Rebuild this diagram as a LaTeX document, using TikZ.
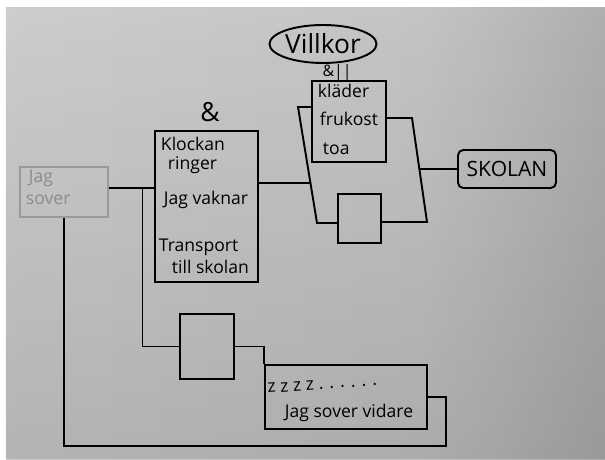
\documentclass[tikz,border=0pt]{standalone}
\usepackage{fontspec}
\setmainfont{Open Sans}
\usetikzlibrary{shapes.geometric,fadings}

\definecolor{paperL}{HTML}{D3D3D3}
\definecolor{paperM}{HTML}{C4C4C4}
\definecolor{paperD}{HTML}{A0A0A0}
\definecolor{paperE}{HTML}{555555}
\pgfdeclarehorizontalshading{photo}{100bp}{color(0bp)=(paperL); color(60bp)=(paperM); color(85bp)=(paperD); color(100bp)=(paperE)}

\begin{document}
\begin{tikzpicture}[
    line width=1.1pt,
    box/.style={draw, inner sep=0pt},
    lbl/.style={anchor=base west, inner sep=0pt, font=\fontsize{10}{12}\selectfont},
    faint/.style={draw=black!40, text=black!45}
]

% Photo
\useasboundingbox (0,0) rectangle (12.1,9.18);
\fill[white] (0,0) rectangle (12.1,9.18);
\shade[shading=photo] (0.12,0) rectangle (12.1,9.02);
\fill[black, path fading=north, opacity=0.12] (0.12,0) rectangle (12.1,9.02);

% Jag sover
\node[box, faint, line width=0.8pt, minimum width=1.76cm, minimum height=1cm] (sover) at (1.28,5.34) {};
\node[lbl, text=black!45] (jag) at (0.56,5.52) {Jag};
\node[lbl, text=black!45] (sov) at (0.5,5.08) {sover};

% Klockan ringer
\node[box, minimum width=2.06cm, minimum height=3.02cm] (klocka) at (4.13,5.05) {};
\node[font=\fontsize{15}{15}\selectfont] (och) at (4.2,6.94) {\&};
\node[lbl] (k1) at (3.2,6.16) {Klockan};
\node[lbl] (k2) at (3.34,5.78) {ringer};
\node[lbl] (k3) at (3.26,5.08) {Jag vaknar};
\node[lbl] (k4) at (3.16,4.14) {Transport};
\node[lbl] (k5) at (3.42,3.7) {till skolan};

% Villkor
\node[draw, ellipse, inner sep=0pt, minimum width=2.06cm, minimum height=0.76cm,
      font=\fontsize{15}{15}\selectfont] (villkor) at (6.46,8.3) {Villkor};
\node[font=\fontsize{9}{9}\selectfont] (op) at (6.74,7.74) {\&||};
\node[box, minimum width=1.48cm, minimum height=1.62cm] (klader) at (6.98,6.75) {};
\node[lbl] (v1) at (6.34,7.22) {kläder};
\node[lbl] (v2) at (6.38,6.66) {frukost};
\node[lbl] (v3) at (6.44,6.08) {toa};
\node[box, minimum width=0.86cm, minimum height=0.98cm] (grind) at (7.19,4.81) {};

\coordinate (ramVL) at (5.96,7.04);
\coordinate (ramVB) at (6.34,4.72);
\coordinate (ramHT) at (8.24,6.82);
\coordinate (ramHB) at (8.54,4.74);
\draw (klader.west |- ramVL) -- (ramVL) -- (ramVB) -- (grind.west |- ramVB);
\draw (klader.east |- ramHT) -- (ramHT) -- (ramHB) -- (grind.east |- ramHB);

% SKOLAN
\node[draw, rounded corners=3pt, minimum width=1.96cm, minimum height=0.76cm,
      font=\fontsize{12}{12}\selectfont] (skolan) at (10.14,5.8) {SKOLAN};

% Jag sover vidare
\node[box, minimum width=1.08cm, minimum height=1.3cm] (grind2) at (4.14,2.25) {};
\node[box, minimum width=3.24cm, minimum height=1.28cm] (somn) at (6.92,1.24) {};
\node[lbl, rotate=4] (zz) at (5.34,1.32) {z z z z . . . . . .};
\node[lbl] (vidare) at (5.68,0.84) {Jag sover vidare};

% Connectors
\coordinate (delning) at (2.85,5.42);
\coordinate (inL) at (6.21,5.52);
\coordinate (utR) at (8.39,5.8);
\coordinate (tillbaka) at (1.28,0.26);
\draw (sover.east |- delning) -- (klocka.west |- delning);
\draw (delning) |- (grind2.west);
\draw (klocka.east |- inL) -- (inL);
\draw (utR) -- (skolan.west);
\draw (grind2.east) -| (somn.north west);
\draw (somn.east) -- ++(0.36,0) |- (tillbaka) -- (sover.south);

\end{tikzpicture}
\end{document}
